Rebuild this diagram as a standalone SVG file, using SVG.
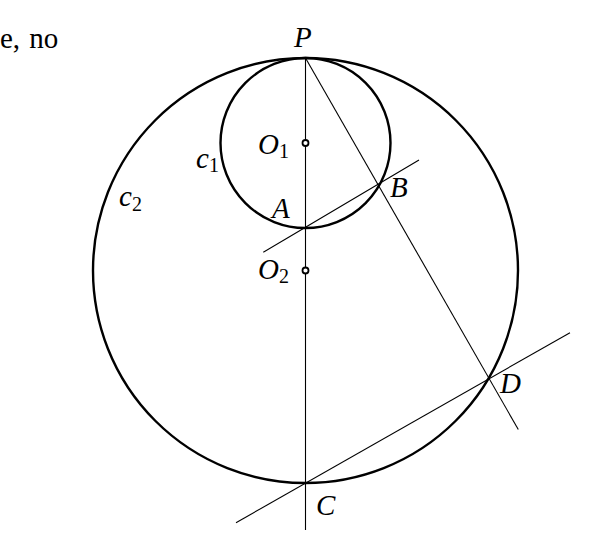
<svg xmlns="http://www.w3.org/2000/svg" width="594" height="548" viewBox="0 0 594 548">
<style>
.circ{fill:none;stroke:#000;stroke-width:2.4}
.ln{stroke:#000;stroke-width:1.1;fill:none}
.pt{fill:#fff;stroke:#000;stroke-width:1.8}
.lb{font-family:"Liberation Serif",serif;font-style:italic;font-size:29px;fill:#000}
.sb{font-style:normal;font-size:20px}
.tx{font-family:"Liberation Serif",serif;font-size:29px;fill:#000}
</style>
<rect width="594" height="548" fill="#fff"/>
<text class="tx" x="0" y="48" word-spacing="2">e, no</text>
<g id="connectors">
<line class="ln" x1="305.5" y1="58" x2="305.5" y2="530"/>
<line class="ln" x1="305.5" y1="58" x2="518.3" y2="429.5"/>
<line class="ln" x1="263.3" y1="252.3" x2="419" y2="160"/>
<line class="ln" x1="236" y1="522.7" x2="570" y2="332.7"/>
</g>
<g id="c2"><circle class="circ" cx="305.5" cy="270.5" r="212.5"/></g>
<g id="c1"><circle class="circ" cx="305.5" cy="143" r="85"/></g>
<g id="O1"><circle class="pt" cx="305.5" cy="143" r="3"/></g>
<g id="O2"><circle class="pt" cx="305.5" cy="270.5" r="3"/></g>
<g id="labels">
<text class="lb" x="294" y="47">P</text>
<text class="lb" x="258" y="154">O<tspan class="sb" dy="4">1</tspan></text>
<text class="lb" x="258" y="279">O<tspan class="sb" dy="4">2</tspan></text>
<text class="lb" x="196" y="168">c<tspan class="sb" dy="4">1</tspan></text>
<text class="lb" x="119" y="206">c<tspan class="sb" dy="5">2</tspan></text>
<text class="lb" x="272" y="218">A</text>
<text class="lb" x="390" y="197">B</text>
<text class="lb" x="316" y="515">C</text>
<text class="lb" x="500" y="393">D</text>
</g>
</svg>
